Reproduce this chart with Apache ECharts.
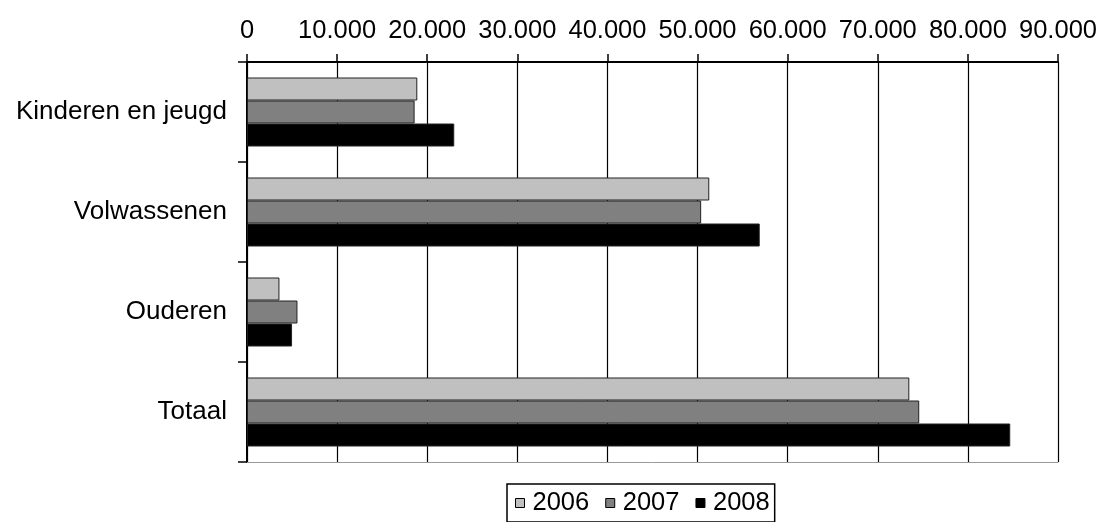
<!DOCTYPE html>
<html>
<head>
<meta charset="utf-8">
<script src="https://cdn.jsdelivr.net/npm/echarts@6/dist/echarts.min.js"></script>
<style>
  html, body { margin: 0; padding: 0; background: #fff; }
  #chart { width: 1101px; height: 522px; }
</style>
</head>
<body>
<div id="chart"></div>
<script>
const categories = ['Kinderen en jeugd', 'Volwassenen', 'Ouderen', 'Totaal'];
const years = ['2006', '2007', '2008'];
const values2006 = [18900, 51300, 3600, 73500];
const values2007 = [18600, 50400, 5600, 74600];
const values2008 = [23000, 56900, 5000, 84700];
const yearColors = ['#c0c0c0', '#808080', '#000000'];

const font = '"Liberation Sans", Arial, sans-serif';

// 10000 -> 10.000
function fmt(v) {
    return String(v).replace(/\B(?=(\d{3})+(?!\d))/g, '.');
}

const chart = echarts.init(document.getElementById('chart'), null, { renderer: 'canvas' });

const seriesData = [values2006, values2007, values2008];
const series = years.map((y, i) => ({
    name: y,
    type: 'bar',
    data: seriesData[i],
    barGap: '0%',
    barCategoryGap: '31%',
    itemStyle: { color: yearColors[i], borderColor: '#222', borderWidth: 1 }
}));

chart.setOption({
    animation: false,
    textStyle: { fontFamily: font },
    grid: { left: 247, right: 43, top: 62, bottom: 60, containLabel: false },
    legend: {
        data: years,
        left: 507,
        top: 484,
        itemWidth: 9,
        itemHeight: 9,
        itemGap: 16,
        padding: [6, 5, 6, 8],
        borderColor: '#000',
        borderWidth: 1.5,
        icon: 'rect',
        textStyle: { fontSize: 25.5, color: '#000', fontFamily: font, padding: [0, 0, 0, 3] },
        itemStyle: { borderColor: '#000', borderWidth: 1 }
    },
    xAxis: [{
        type: 'value',
        position: 'top',
        min: 0,
        max: 90000,
        interval: 10000,
        axisLine: { show: true, lineStyle: { color: '#000', width: 2 } },
        axisTick: { show: true, length: 8, lineStyle: { color: '#000', width: 1.5 } },
        axisLabel: { color: '#000', fontSize: 25.5, margin: 18, formatter: fmt, fontFamily: font },
        splitLine: { show: true, lineStyle: { color: '#000', width: 1.2 } }
    }, {
        type: 'value',
        position: 'bottom',
        min: 0,
        max: 90000,
        axisLine: { show: true, lineStyle: { color: '#999', width: 1 } },
        axisTick: { show: false },
        axisLabel: { show: false },
        splitLine: { show: false }
    }],
    yAxis: {
        type: 'category',
        data: categories,
        inverse: true,
        axisLine: { show: true, lineStyle: { color: '#000', width: 2 } },
        axisTick: { show: true, length: 9, lineStyle: { color: '#000', width: 1.5 } },
        axisLabel: { color: '#000', fontSize: 26, margin: 20, fontFamily: font }
    },
    series: series
});
</script>
</body>
</html>
